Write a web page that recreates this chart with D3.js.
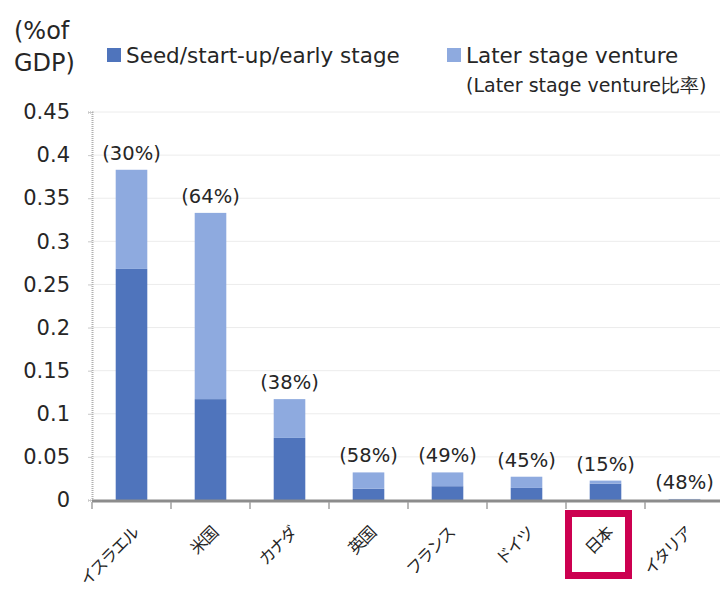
<!DOCTYPE html>
<html>
<head>
<meta charset="utf-8">
<script src="https://cdn.jsdelivr.net/npm/d3@7"></script>
<style>
  body { margin: 0; background: #fff; }
  text { font-family: "DejaVu Sans", Verdana, sans-serif; fill: #262626; }
  .jp { font-family: "Noto Sans CJK JP", sans-serif; }
</style>
</head>
<body>
<div id="chart"></div>
<script>
// data (share of GDP)
const categories = ["イスラエル", "米国", "カナダ", "英国", "フランス", "ドイツ", "日本", "イタリア"];
const seedValues = [0.268, 0.117, 0.072, 0.013, 0.016, 0.014, 0.019, 0.0006];
const laterValues = [0.115, 0.216, 0.045, 0.019, 0.016, 0.013, 0.0035, 0.0006];
const ratioLabels = ["(30%)", "(64%)", "(38%)", "(58%)", "(49%)", "(45%)", "(15%)", "(48%)"];
const yTicks = [0, 0.05, 0.1, 0.15, 0.2, 0.25, 0.3, 0.35, 0.4, 0.45];
const seriesNames = ["Seed/start-up/early stage", "Later stage venture"];

const W = 720, H = 595;
const seedColor = "#4f74bc", laterColor = "#8eaadf";

const svg = d3.select("#chart").append("svg")
    .attr("width", W).attr("height", H);

const x = d3.scaleBand().domain(categories).range([92, 724]).paddingInner(0).paddingOuter(0);
const y = d3.scaleLinear().domain([0, 0.45]).range([500, 112]);

// gridlines
svg.append("g").selectAll("line").data(yTicks.slice(1)).enter().append("line")
    .attr("x1", 92).attr("x2", 720)
    .attr("y1", d => y(d)).attr("y2", d => y(d))
    .attr("stroke", "#ececec").attr("stroke-width", 1);

// y axis
const yAxis = svg.append("g").attr("transform", "translate(92,0)")
    .call(d3.axisLeft(y).tickValues(yTicks).tickSize(4).tickPadding(18)
        .tickFormat(d => String(+d.toFixed(2))));
yAxis.select(".domain").attr("stroke", "#b0b0b0").attr("stroke-dasharray", "1,1").attr("stroke-width", 2);
yAxis.selectAll(".tick line").attr("stroke", "#c8c8c8");
yAxis.selectAll(".tick text").style("font-size", "21px").attr("fill", "#262626")
    .attr("font-family", "DejaVu Sans, Verdana, sans-serif");

// stacked bars
const stack = categories.map((c, i) => ({ c, seed: seedValues[i], later: laterValues[i], label: ratioLabels[i] }));
const bw = x.bandwidth() * 0.4;
const bars = svg.append("g").selectAll("g").data(stack).enter().append("g")
    .attr("transform", d => `translate(${x(d.c) + (x.bandwidth() - bw) / 2},0)`);
bars.append("rect")
    .attr("y", d => y(d.seed)).attr("height", d => y(0) - y(d.seed))
    .attr("width", bw).attr("fill", seedColor);
bars.append("rect")
    .attr("y", d => y(d.seed + d.later)).attr("height", d => y(d.seed) - y(d.seed + d.later))
    .attr("width", bw).attr("fill", laterColor);
bars.append("text")
    .attr("x", bw / 2).attr("y", d => y(d.seed + d.later) - 10)
    .attr("text-anchor", "middle").style("font-size", "19.5px")
    .text(d => d.label);

// x axis
svg.append("line").attr("x1", 92).attr("x2", 720).attr("y1", 501).attr("y2", 501)
    .attr("stroke", "#8c8c8c").attr("stroke-width", 3);
svg.append("g").selectAll("line").data(categories).enter().append("line")
    .attr("x1", d => x(d)).attr("x2", d => x(d))
    .attr("y1", 502).attr("y2", 509).attr("stroke", "#a0a0a0").attr("stroke-width", 1.5);
svg.append("g").selectAll("text").data(categories).enter().append("text")
    .attr("class", "jp")
    .attr("transform", d => `translate(${x(d) + x.bandwidth() / 2 + 4},${530}) rotate(-45)`)
    .attr("text-anchor", "end").attr("dy", "0.35em")
    .style("font-size", "16.5px").style("letter-spacing", "-1.5px").attr("fill", "#111")
    .text(d => d);

// highlight box around 日本
const jx = x("日本") + x.bandwidth() / 2;
svg.append("rect")
    .attr("x", jx - 37).attr("y", 513.5).attr("width", 60).attr("height", 62)
    .attr("fill", "none").attr("stroke", "#cc0050").attr("stroke-width", 7);

// y axis title
svg.append("text").attr("x", 14).attr("y", 39).style("font-size", "24px").text("(%of");
svg.append("text").attr("x", 14).attr("y", 71).style("font-size", "24px").text("GDP)");

// legend
const legendX = [107, 447];
const legend = svg.append("g").selectAll("g").data(seriesNames).enter().append("g")
    .attr("transform", (d, i) => `translate(${legendX[i]},48)`);
legend.append("rect").attr("width", 14).attr("height", 14)
    .attr("fill", (d, i) => i === 0 ? seedColor : laterColor);
legend.append("text").attr("x", 19).attr("y", 15).style("font-size", "21.5px").text(d => d);
svg.append("text").attr("x", 466).attr("y", 92).style("font-size", "19px")
    .text("(Later stage venture比率)");
</script>
</body>
</html>
